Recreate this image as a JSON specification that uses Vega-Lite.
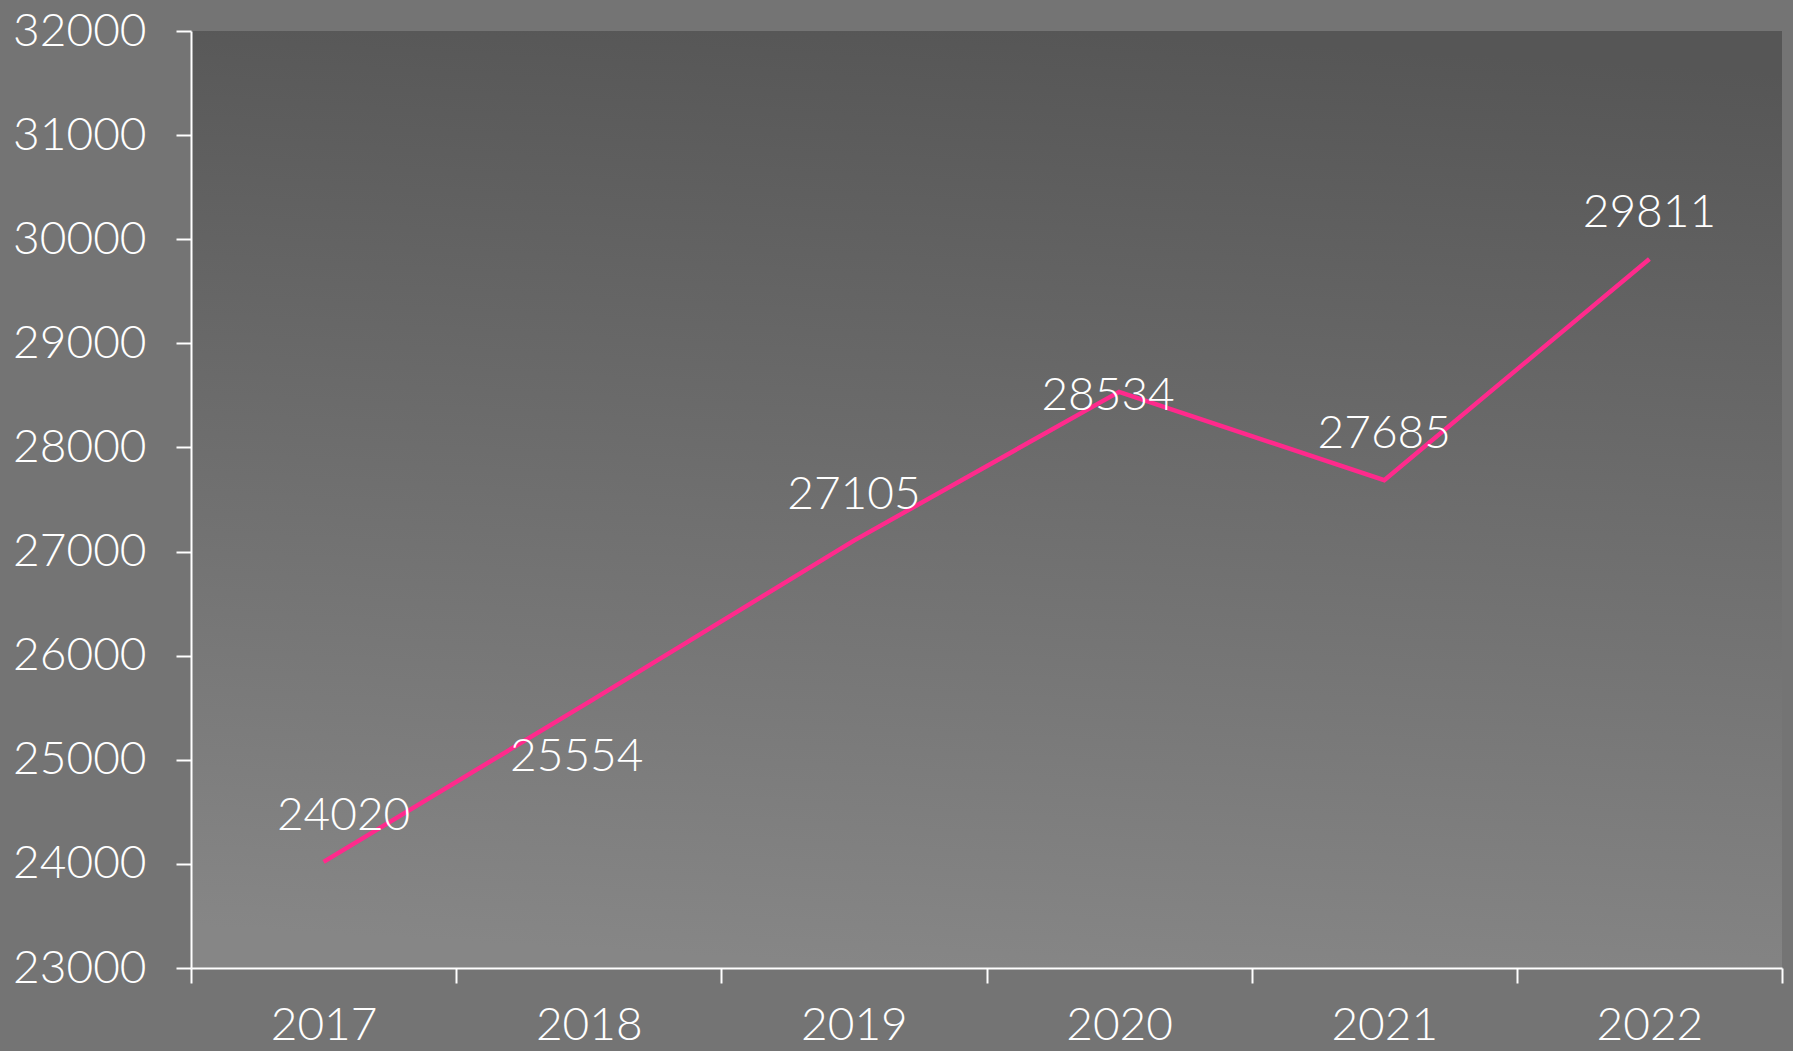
{
  "$schema": "https://vega.github.io/schema/vega-lite/v6.json",
  "width": 1591,
  "height": 937,
  "autosize": {"type": "none"},
  "padding": {"left": 191, "top": 31, "right": 11, "bottom": 83},
  "background": "#747474",
  "config": {
    "font": "Lato",
    "view": {
      "stroke": null,
      "fill": {
        "gradient": "linear",
        "x1": 0.55, "y1": 0, "x2": 0.45, "y2": 1,
        "stops": [
          {"offset": 0, "color": "#565656"},
          {"offset": 1, "color": "#868686"}
        ]
      }
    }
  },
  "data": {
    "values": [
      {"year": "2017", "value": 24020},
      {"year": "2018", "value": 25554},
      {"year": "2019", "value": 27105},
      {"year": "2020", "value": 28534},
      {"year": "2021", "value": 27685},
      {"year": "2022", "value": 29811}
    ]
  },
  "encoding": {
    "x": {
      "field": "year",
      "type": "ordinal",
      "scale": {"type": "band", "paddingInner": 0, "paddingOuter": 0},
      "axis": {
        "title": null,
        "labelAngle": 0,
        "tickBand": "extent",
        "domainColor": "white",
        "domainWidth": 2,
        "tickColor": "white",
        "tickWidth": 2,
        "tickSize": 15,
        "labelColor": "white",
        "labelFontSize": 46,
        "labelFontWeight": 300,
        "labelPadding": 20,
        "grid": false
      }
    },
    "y": {
      "field": "value",
      "type": "quantitative",
      "scale": {"domain": [23000, 32000], "nice": false, "zero": false},
      "axis": {
        "title": null,
        "values": [23000, 24000, 25000, 26000, 27000, 28000, 29000, 30000, 31000, 32000],
        "format": "d",
        "grid": false,
        "domainColor": "white",
        "domainWidth": 2,
        "tickColor": "white",
        "tickWidth": 2,
        "tickSize": 15,
        "labelColor": "white",
        "labelFontSize": 46,
        "labelFontWeight": 300,
        "labelPadding": 30
      }
    }
  },
  "layer": [
    {"mark": {"type": "line", "color": "#ff2a8c", "strokeWidth": 4.5}},
    {
      "transform": [{"filter": "datum.year == '2019' || datum.year == '2021' || datum.year == '2022'"}],
      "mark": {"type": "text", "dy": -46, "fontSize": 46, "fontWeight": 300, "color": "white", "baseline": "middle"},
      "encoding": {"text": {"field": "value", "type": "quantitative", "format": "d"}}
    },
    {
      "transform": [{"filter": "datum.year == '2017'"}],
      "mark": {"type": "text", "dy": -46, "dx": 20, "fontSize": 46, "fontWeight": 300, "color": "white", "baseline": "middle"},
      "encoding": {"text": {"field": "value", "type": "quantitative", "format": "d"}}
    },
    {
      "transform": [{"filter": "datum.year == '2018'"}],
      "mark": {"type": "text", "dy": 55, "dx": -12, "fontSize": 46, "fontWeight": 300, "color": "white", "baseline": "middle"},
      "encoding": {"text": {"field": "value", "type": "quantitative", "format": "d"}}
    },
    {
      "transform": [{"filter": "datum.year == '2020'"}],
      "mark": {"type": "text", "dy": 4, "dx": -11, "fontSize": 46, "fontWeight": 300, "color": "white", "baseline": "middle"},
      "encoding": {"text": {"field": "value", "type": "quantitative", "format": "d"}}
    }
  ]
}
